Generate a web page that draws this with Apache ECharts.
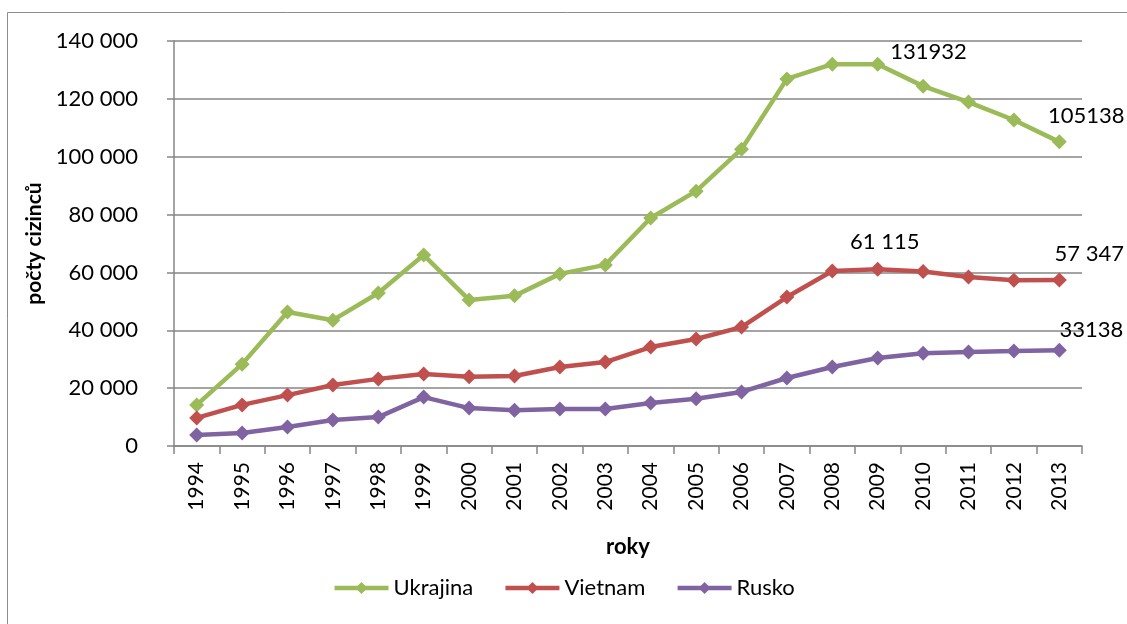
<!DOCTYPE html>
<html>
<head>
<meta charset="utf-8">
<script src="https://cdn.jsdelivr.net/npm/echarts@6/dist/echarts.min.js"></script>
<style>
  html, body { margin: 0; padding: 0; background: #fff; }
  #chart { width: 1127px; height: 624px; }
</style>
</head>
<body>
<div id="chart"></div>
<script>
const years = ['1994', '1995', '1996', '1997', '1998', '1999', '2000', '2001', '2002', '2003',
  '2004', '2005', '2006', '2007', '2008', '2009', '2010', '2011', '2012', '2013']

const ukrajina = [14200, 28300, 46300, 43500, 52900, 66000, 50500, 51900, 59500, 62600,
  78800, 88100, 102600, 126900, 132000, 131932, 124400, 118900, 112700, 105138]
const vietnam = [9700, 14200, 17600, 21100, 23200, 24900, 23900, 24200, 27300, 29000,
  34200, 37000, 41100, 51500, 60500, 61115, 60300, 58400, 57300, 57347]
const rusko = [3800, 4500, 6600, 9000, 10000, 16900, 13100, 12400, 12800, 12800,
  14900, 16300, 18700, 23500, 27300, 30400, 32100, 32500, 32800, 33138]

// indexes of the points that carry a value label
const ukrajinaLabels = [15, 19]
const vietnamLabels = [15, 19]
const ruskoLabels = [19]

const font = 'Lato, "Open Sans", sans-serif'
const spaced = v => String(v).replace(/\B(?=(\d{3})+(?!\d))/g, ' ')

function buildData(values, labelIdx, labelStyles, formatter) {
  return values.map((v, i) => {
    const k = labelIdx.indexOf(i)
    if (k < 0) return v
    return {
      value: v,
      label: Object.assign({
        show: true,
        color: '#000',
        fontSize: 22,
        fontFamily: font,
        formatter: p => formatter(p.value)
      }, labelStyles[k])
    }
  })
}

function makeSeries(name, color, data) {
  return {
    name: name,
    type: 'line',
    data: data,
    symbol: 'diamond',
    symbolSize: 15,
    lineStyle: { color: color, width: 4.5 },
    itemStyle: { color: color },
    emphasis: { disabled: true },
    z: 3
  }
}

const chart = echarts.init(document.getElementById('chart'))

chart.setOption({
  animation: false,
  textStyle: { fontFamily: font },
  graphic: [{
    type: 'rect',
    shape: { x: 7.5, y: 12.5, width: 1140, height: 640 },
    style: { fill: 'none', stroke: '#8c8c8c', lineWidth: 1 },
    silent: true
  }],
  legend: {
    bottom: 20,
    left: 'center',
    itemWidth: 54,
    itemHeight: 15,
    itemGap: 30,
    lineStyle: { width: 4.5 },
    textStyle: { color: '#000', fontSize: 22, fontFamily: font },
    data: ['Ukrajina', 'Vietnam', 'Rusko']
  },
  grid: {
    left: 174,
    right: 45,
    top: 41,
    bottom: 178
  },
  xAxis: {
    type: 'category',
    data: years,
    boundaryGap: true,
    name: 'roky',
    nameLocation: 'middle',
    nameGap: 90,
    nameTextStyle: { color: '#000', fontSize: 22, fontWeight: 'bold', fontFamily: font },
    axisLine: { lineStyle: { color: '#868686', width: 1.5 } },
    axisTick: { show: true, length: 8, lineStyle: { color: '#868686', width: 1.5 } },
    axisLabel: { rotate: 90, color: '#000', fontSize: 21, fontFamily: font, margin: 16 }
  },
  yAxis: {
    type: 'value',
    min: 0,
    max: 140000,
    interval: 20000,
    name: 'počty cizinců',
    nameLocation: 'middle',
    nameGap: 126,
    nameTextStyle: { color: '#000', fontSize: 21, fontWeight: 'bold', fontFamily: font },
    axisLine: { show: true, lineStyle: { color: '#868686', width: 1.5 } },
    axisTick: { show: true, length: 7, lineStyle: { color: '#868686', width: 1.5 } },
    axisLabel: { color: '#000', fontSize: 22, fontFamily: font, margin: 36, formatter: v => spaced(v) },
    splitLine: { show: true, lineStyle: { color: '#868686', width: 1.5 } }
  },
  series: [
    makeSeries('Ukrajina', '#9BBB59', buildData(ukrajina, ukrajinaLabels, [
      { position: 'right', offset: [0, -12] },
      { position: 'top', offset: [27, -2] }
    ], v => String(v))),
    makeSeries('Vietnam', '#C0504D', buildData(vietnam, vietnamLabels, [
      { position: 'top', offset: [7, -4] },
      { position: 'top', offset: [30, -3] }
    ], spaced)),
    makeSeries('Rusko', '#8064A2', buildData(rusko, ruskoLabels, [
      { position: 'top', offset: [32, 3] }
    ], v => String(v)))
  ]
})
</script>
</body>
</html>
